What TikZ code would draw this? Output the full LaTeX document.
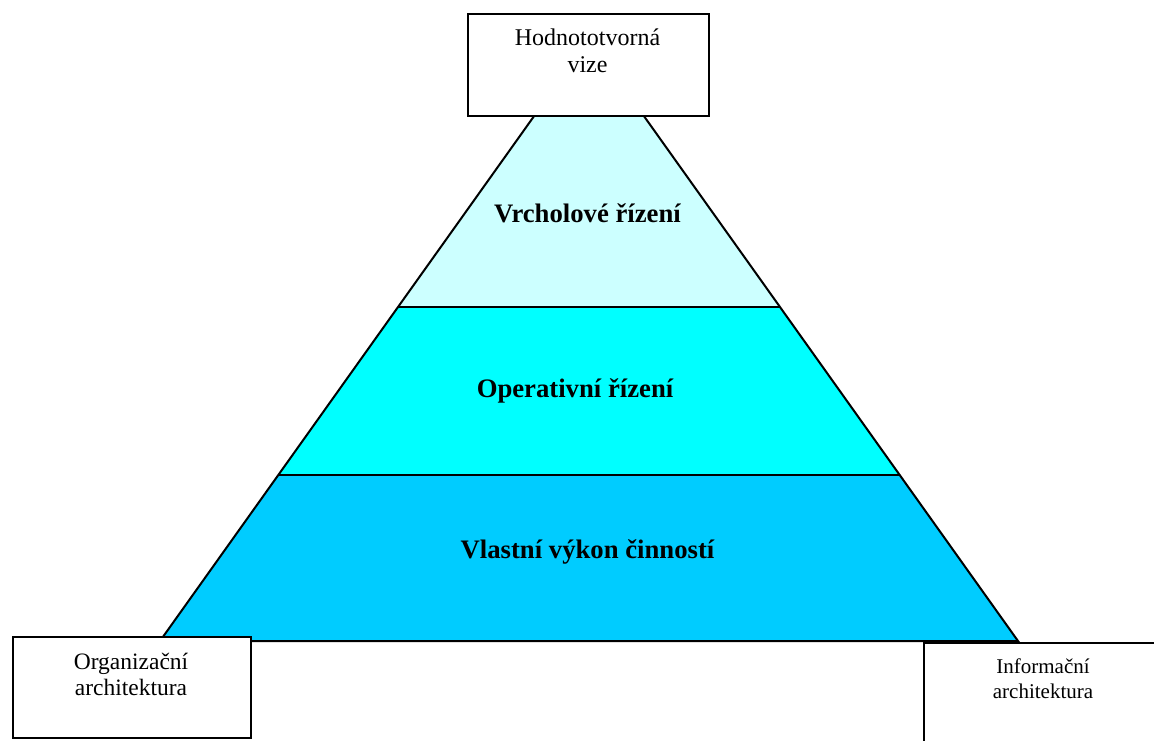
\documentclass[tikz,border=0pt]{standalone}
\usepackage{fontspec}
\setmainfont{Liberation Serif}
\usetikzlibrary{calc}
\definecolor{toplevel}{HTML}{CCFFFF}
\definecolor{midlevel}{HTML}{00FFFF}
\definecolor{lowlevel}{HTML}{00CCFF}
\begin{document}
\begin{tikzpicture}[x=1pt,y=-1pt]
    \tikzstyle{every node}+=[inner sep=0pt]
    \tikzstyle{edge}=[black, line width=2pt]
    \tikzstyle{box}=[draw=black, line width=2pt, fill=white, rectangle, anchor=north west]
    \tikzstyle{level}=[font=\fontsize{26.7}{32}\selectfont\bfseries, anchor=base]
    \useasboundingbox (0,0) rectangle (1154,740);
    \clip (0,0) rectangle (1154,740);
    % pyramid corners
    \coordinate (apex) at (589,39);
    \coordinate (bl) at (160,641);
    \coordinate (br) at (1018,641);
    \coordinate (l1) at ($(apex)!0.445!(bl)$);
    \coordinate (r1) at ($(apex)!0.445!(br)$);
    \coordinate (l2) at ($(apex)!0.724!(bl)$);
    \coordinate (r2) at ($(apex)!0.724!(br)$);
    \fill [toplevel] (apex) -- (l1) -- (r1) -- cycle;
    \fill [midlevel] (l1) -- (l2) -- (r2) -- (r1) -- cycle;
    \fill [lowlevel] (l2) -- (bl) -- (br) -- (r2) -- cycle;
    \draw [edge] (apex) -- (bl) -- (br) -- cycle;
    \draw [edge] (l1) -- (r1);
    \draw [edge] (l2) -- (r2);
    \node [level] (vrchol) at (587.5,222) {Vrcholové řízení};
    \node [level] (operativ) at (575,397) {Operativní řízení};
    \node [level] (vykon) at (587.5,558) {Vlastní výkon činností};
    % boxes
    \node [box, minimum width=241pt, minimum height=102pt] (vize) at (467,13) {};
    \node [box, minimum width=238pt, minimum height=101pt] (org) at (12,636) {};
    \node [box, minimum width=240pt, minimum height=120pt] (info) at (923,642) {};
    \draw [edge] (br) -- (info.north west);
    \node [font=\fontsize{24}{27}\selectfont, align=center, anchor=base] (vizetext) at (587.5,72) {Hodnototvorná\\vize};
    \node [font=\fontsize{23.5}{26}\selectfont, align=center, anchor=base] (orgtext) at (131,695) {Organizační\\architektura};
    \node [font=\fontsize{21}{25}\selectfont, align=center, anchor=base] (infotext) at (1043,698) {Informační\\architektura};
\end{tikzpicture}
\end{document}
